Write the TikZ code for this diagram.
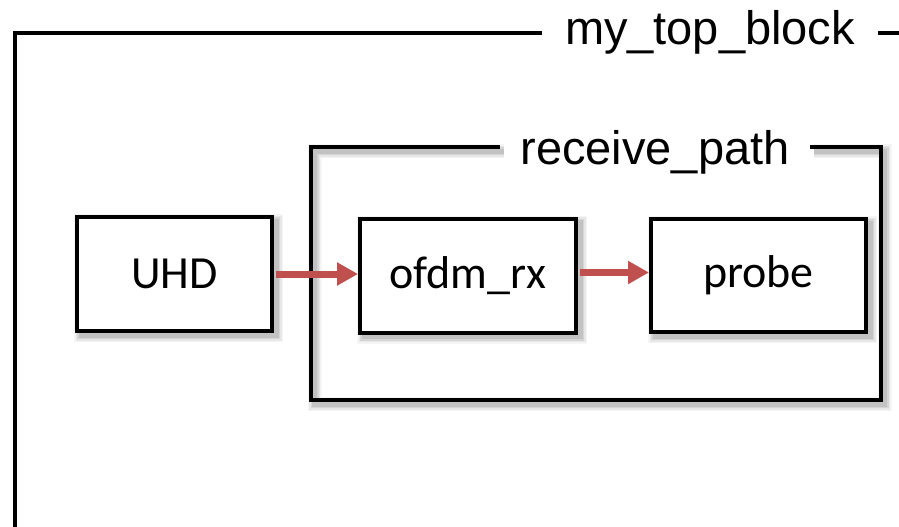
\documentclass[tikz,border=0pt]{standalone}
\usepackage{fontspec}
\newfontfamily\calfont{Carlito}
\newfontfamily\arialfont{Liberation Sans}
\usetikzlibrary{arrows.meta}
\definecolor{linkred}{RGB}{192,80,77}
\tikzset{
  softshadow/.style={
    preaction={draw=black, draw opacity=0.04, line width=14pt, transform canvas={shift={(4pt,-4pt)}}},
    preaction={draw=black, draw opacity=0.06, line width=11pt, transform canvas={shift={(4pt,-4pt)}}},
    preaction={draw=black, draw opacity=0.08, line width=8pt, transform canvas={shift={(4pt,-4pt)}}},
    preaction={draw=black, draw opacity=0.09, line width=5pt, transform canvas={shift={(4pt,-4pt)}}},
  },
  blk/.style={draw=black, fill=white, line width=4pt, softshadow, inner sep=0pt,
    font=\calfont\fontsize{46}{50}\selectfont},
  frame/.style={draw=black, line width=4pt},
  ttl/.style={font=\arialfont\fontsize{47}{52}\selectfont, inner ysep=0pt, anchor=base},
  link/.style={draw=linkred, line width=7pt, -{Triangle[length=21pt,width=22pt]}},
}
\begin{document}
\begin{tikzpicture}[x=1pt, y=-1pt]
  \useasboundingbox (0,0) rectangle (899,527);
  \clip (0,0) rectangle (899,527);

  % outer block: only its top-left corner is in view
  \node[ttl, inner xsep=23pt] (top) at (710,45) {my\_top\_block};
  \coordinate (topline) at (0,33.5);
  \draw[frame] (top.west |- topline) -- (14.5,33.5) -- (14.5,540);
  \draw[frame] (top.east |- topline) -- (910,33.5);

  % receive_path hierarchical block
  \node[ttl, inner xsep=20pt] (rp) at (655,164) {receive\_path};
  \coordinate (rpline) at (0,147);
  \draw[frame, softshadow] (rp.west |- rpline) -- (310.5,147) -- (310.5,400)
    -- (880.5,400) -- (880.5,147) -- (rp.east |- rpline);

  % blocks
  \node[blk, minimum width=195pt, minimum height=114pt] (uhd) at (174.5,274) {UHD};
  \node[blk, minimum width=216pt, minimum height=114pt] (ofdm) at (468,275.5) {ofdm\_rx};
  \node[blk, minimum width=215pt, minimum height=113pt] (probe) at (758.5,275.5) {probe};

  % connections, starting at the outer edge of the source border
  \draw[link] ([xshift=2pt]uhd.east) -- (uhd.east -| ofdm.west);
  \draw[link] ([xshift=2pt,yshift=3pt]ofdm.east) -- ([yshift=3pt]probe.west);
\end{tikzpicture}
\end{document}
